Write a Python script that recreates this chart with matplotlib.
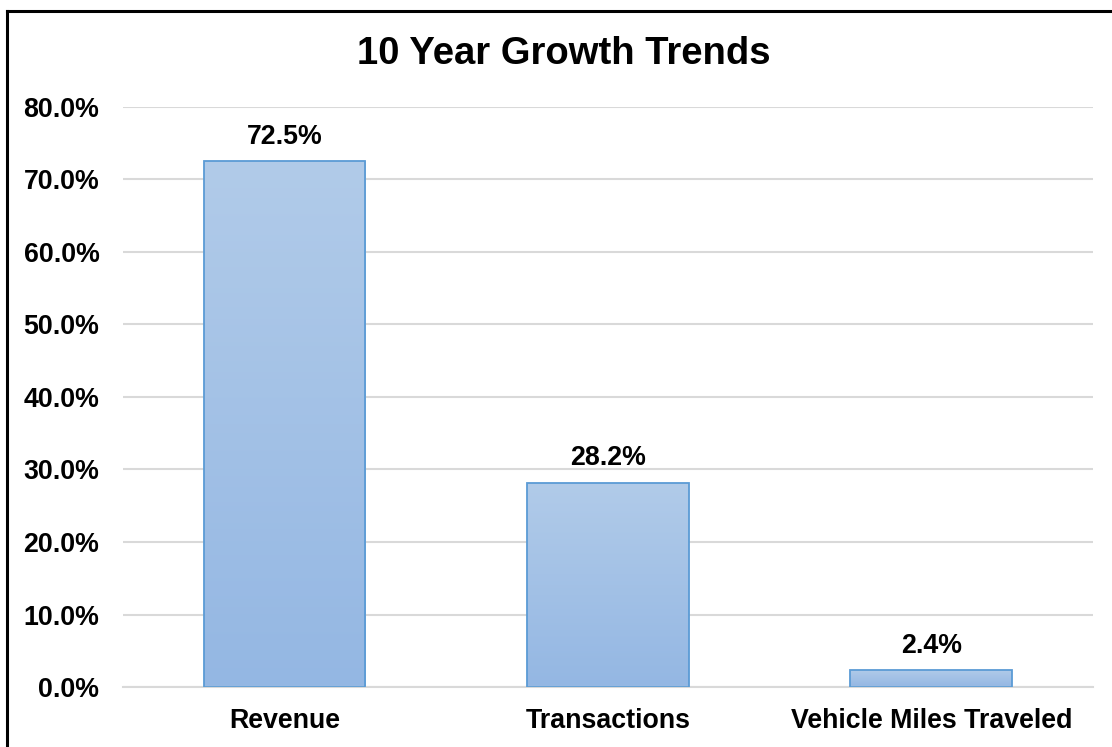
import numpy as np
import matplotlib
matplotlib.use("Agg")
import matplotlib.pyplot as plt
from matplotlib.lines import Line2D
from matplotlib.ticker import FuncFormatter, MultipleLocator

categories = ["Revenue", "Transactions", "Vehicle Miles Traveled"]
growth = [72.5, 28.2, 2.4]
title = "10 Year Growth Trends"

plt.rcParams["font.family"] = ["Liberation Sans", "DejaVu Sans"]
plt.rcParams["font.weight"] = "bold"

fig = plt.figure(figsize=(11.12, 7.47), dpi=100)
ax = fig.add_axes([0.1106, 0.0803, 0.8723, 0.7765])

x = np.arange(len(categories))
width = 0.5
bars = ax.bar(x, growth, width=width, color="none", edgecolor="#5b9bd5",
              linewidth=1.3, zorder=3)

# vertical gradient fill, light at the top, darker at the bottom
grad = np.linspace(0, 1, 256).reshape(-1, 1)
cmap = matplotlib.colors.LinearSegmentedColormap.from_list(
    "bar", ["#94b7e3", "#b1cbe9"])
for rect in bars:
    x0, y0 = rect.get_x(), rect.get_y()
    w, h = rect.get_width(), rect.get_height()
    im = ax.imshow(grad, cmap=cmap, aspect="auto", origin="lower",
                   extent=[x0, x0 + w, y0, y0 + h], zorder=2)
    im.set_clip_path(rect)

for xi, v in zip(x, growth):
    ax.annotate(f"{v:.1f}%", (xi, v), xytext=(0, 8), textcoords="offset points",
                ha="center", va="bottom", fontsize=19.3, fontweight="bold")

ax.set_xlim(-0.5, len(categories) - 0.5)
ax.set_ylim(0, 80)
ax.yaxis.set_major_locator(MultipleLocator(10))
ax.yaxis.set_major_formatter(FuncFormatter(lambda v, _: f"{v:.1f}%"))
ax.set_xticks(x)
ax.set_xticklabels(categories)
ax.tick_params(axis="both", length=0, labelsize=19.3)
ax.tick_params(axis="y", pad=17)
ax.tick_params(axis="x", pad=15)
for lab in ax.get_xticklabels() + ax.get_yticklabels():
    lab.set_fontweight("bold")

ax.grid(axis="y", color="#d9d9d9", linewidth=1.5, zorder=0)
ax.set_axisbelow(True)
for side in ["top", "right", "left"]:
    ax.spines[side].set_visible(False)
ax.spines["bottom"].set_color("#d9d9d9")
ax.spines["bottom"].set_linewidth(1.5)

fig.text(564 / 1112, 1 - 54 / 747, title, ha="center", va="center",
         fontsize=27.5, fontweight="bold")

# chart frame: only the left and top edges fall inside the picture
fx = 7 / 1112
fy = 1 - 11 / 747
fig.add_artist(Line2D([fx, fx], [0, fy], transform=fig.transFigure,
                      color="black", linewidth=2.2))
fig.add_artist(Line2D([fx, 1], [fy, fy], transform=fig.transFigure,
                      color="black", linewidth=2.2))

fig.savefig("out.png", dpi=100)
